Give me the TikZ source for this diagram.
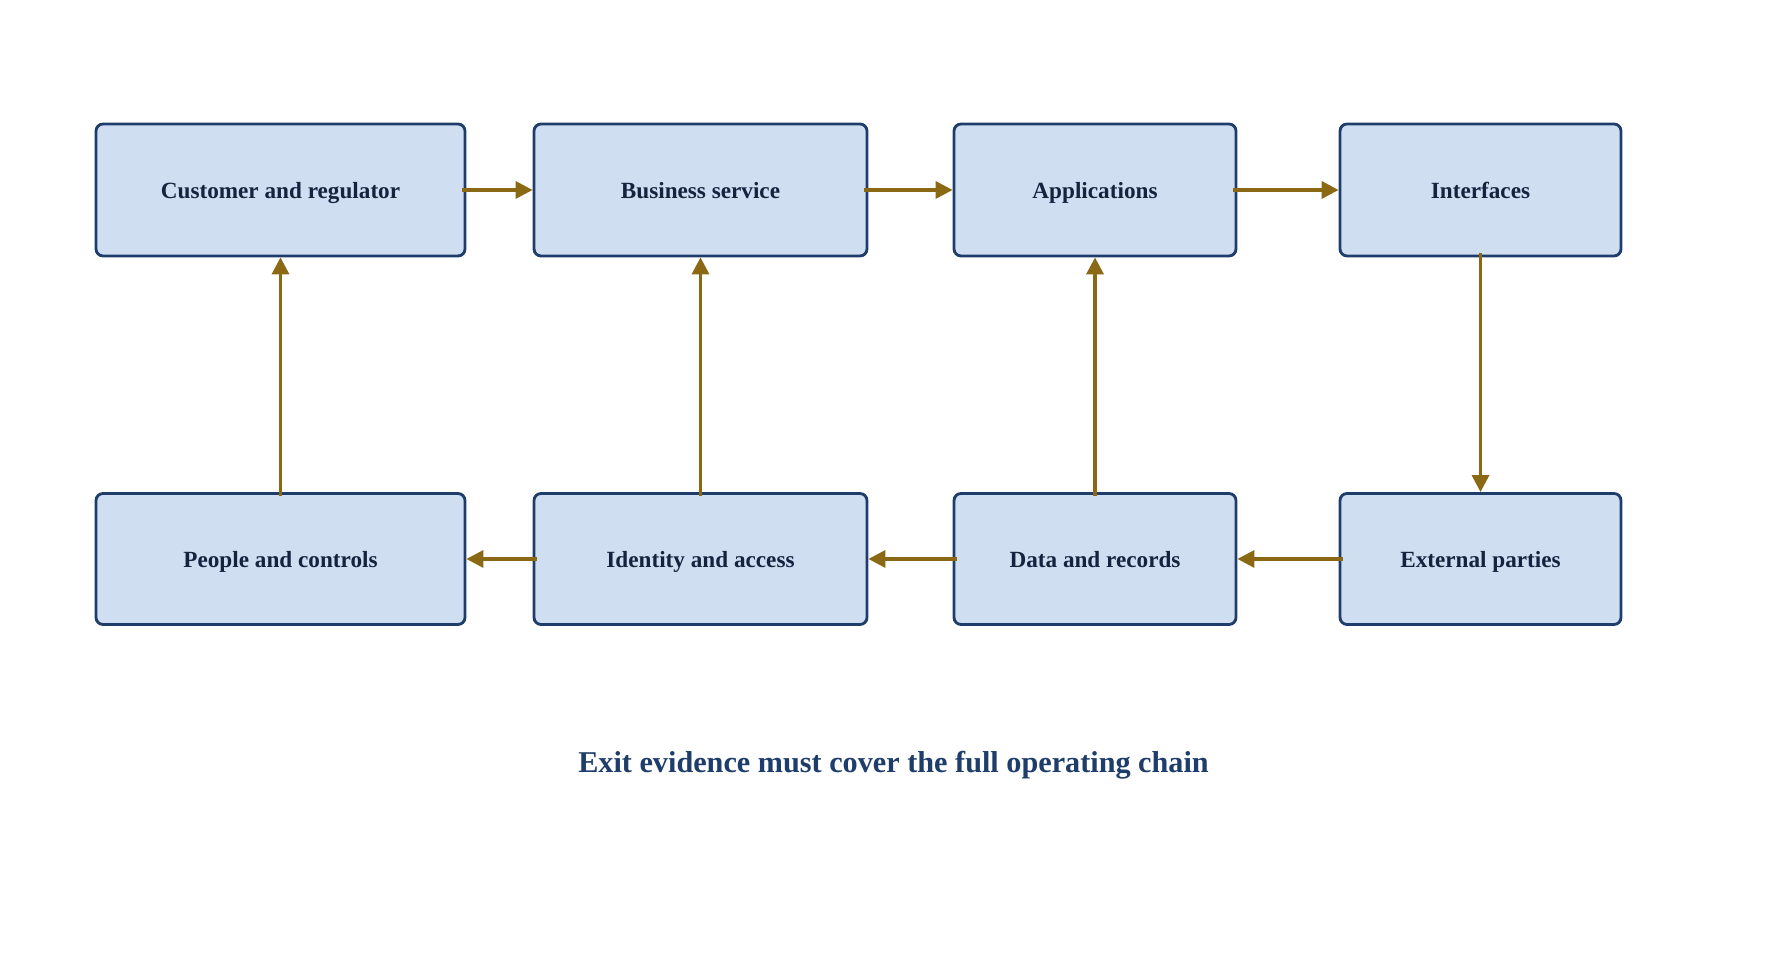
\documentclass[tikz,border=0pt]{standalone}
\usepackage{fontspec}
\setmainfont{Liberation Serif}
\usetikzlibrary{arrows.meta,positioning}
\definecolor{boxline}{HTML}{1F3D6B}
\definecolor{boxfill}{HTML}{CFDEF0}
\definecolor{boxtext}{HTML}{15233F}
\definecolor{flow}{HTML}{8B6914}
\tikzset{
	box/.style={draw=boxline,fill=boxfill,line width=0.8pt,rounded corners=2pt,rectangle,align=center,text=boxtext,text height=.7em,text depth=.2em,font=\fontsize{6.6pt}{8pt}\selectfont\bfseries},
	row1/.style={minimum height=1.32cm},
	row2/.style={minimum height=1.31cm},
	flow/.style={draw=flow,line width=0.95pt,-{Triangle[length=4.8pt,width=4.8pt]},shorten <=-1.2pt}
}
\begin{document}
\begin{tikzpicture}
		\useasboundingbox (0,0) rectangle (17.87,9.59);
		
		\node[box,row1,minimum width=3.69cm] (cust) at (2.805,7.69) {Customer and regulator};
		\node[box,row1,minimum width=3.33cm] (serv) at (7.005,7.69) {Business service};
		\node[box,row1,minimum width=2.82cm] (apps) at (10.95,7.69) {Applications};
		\node[box,row1,minimum width=2.81cm] (intf) at (14.805,7.69) {Interfaces};
		
		\node[box,row2,minimum width=3.69cm] (ppl) at (2.805,4.00) {People and controls};
		\node[box,row2,minimum width=3.33cm] (iden) at (7.005,4.00) {Identity and access};
		\node[box,row2,minimum width=2.82cm] (data) at (10.95,4.00) {Data and records};
		\node[box,row2,minimum width=2.81cm] (extp) at (14.805,4.00) {External parties};
		
		\node[anchor=base,text=boxline,font=\fontsize{8.6pt}{10pt}\selectfont\bfseries] (chain) at (8.935,1.86) {Exit evidence must cover the full operating chain}; % caption
		
		\draw[flow] (cust) -- (serv);
		\draw[flow] (serv) -- (apps);
		\draw[flow] (apps) -- (intf);
		\draw[flow] (intf) -- (extp);
		\draw[flow] (extp) -- (data);
		\draw[flow] (data) -- (iden);
		\draw[flow] (iden) -- (ppl);
		\draw[flow] (ppl) -- (cust);
		\draw[flow] (iden) -- (serv);
		\draw[flow] (data) -- (apps);
	\end{tikzpicture}
\end{document}
